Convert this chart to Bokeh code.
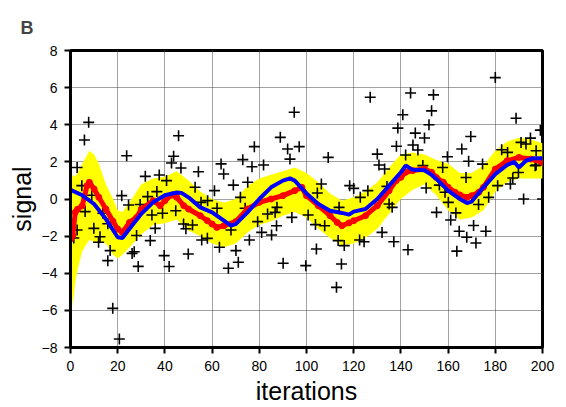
from bokeh.plotting import figure
from bokeh.models import FixedTicker, Range1d
from bokeh.embed import file_html
from bokeh.resources import INLINE

# scatter observations
obs_x = [7.7, 5.9, 2.8, 23.8, 45.8, 43.7, 42.8, 46.8, 31.7, 37.6, 40.7, 4.8, 9.0, 21.7, 24.6, 29.5,
         32.7, 36.6, 13.7, 6.2, 34.5, 39.0, 44.6, 9.9, 2.8, 15.8, 35.9, 47.9, 48.9, 12.5, 11.9, 28.0,
         33.8, 1.4, 16.8, 15.8, 26.1, 27.0, 28.7, 39.7, 41.8, 49.9, 17.9, 20.7,
         94.8, 88.9, 77.9, 92.0, 96.9, 93.0, 73.0, 76.9, 81.8, 63.8, 54.2, 64.9, 75.1, 69.0, 52.8, 61.0,
         72.0, 58.1, 55.3, 62.1, 74.0, 83.5, 86.7, 87.5, 93.8, 100.7, 51.7, 79.3, 87.3, 68.0, 81.0, 85.2,
         55.6, 58.0, 75.8, 63.1, 70.1, 71.1, 66.9, 90.1, 99.7,
         127.0, 144.1, 140.8, 138.7, 146.1, 150.0, 138.1, 145.1, 147.2, 130.0, 109.2, 142.0, 130.7,
         133.1, 149.3, 106.3, 104.6, 118.3, 120.0, 126.0, 122.8, 134.1, 150.7, 113.8, 135.0, 136.3,
         103.8, 107.7, 132.0, 113.4, 116.0, 122.5, 124.4, 137.0, 143.0, 104.2, 114.8, 112.7,
         180.0, 153.8, 153.0, 151.9, 188.8, 169.6, 165.8, 159.7, 168.7, 174.6, 182.7, 185.2, 190.9,
         194.9, 199.1, 193.0, 197.3, 197.3, 157.7, 167.6, 156.3, 158.7, 160.1, 155.1, 163.3, 161.1,
         164.7, 167.9, 171.8, 170.8, 176.0, 163.7, 172.9, 177.2, 181.0, 186.4, 187.4, 189.8, 192.0,
         196.9, 200.0]
obs_y = [4.13, 3.18, 1.70, 2.33, 3.41, 2.30, 1.94, 1.67, 1.22, 1.29, 0.99, 0.72, 0.20, 0.18, -0.32, -0.30,
         0.13, 0.40, -0.77, -0.68, -0.86, -0.77, -0.63, -1.58, -1.67, -1.33, -1.58, -1.35, -1.60, -2.03, -2.33, -1.97,
         -2.24, -2.10, -2.78, -3.32, -2.93, -2.84, -3.63, -3.05, -3.64, -2.96, -5.89, -7.54,
         4.67, 3.32, 2.82, 2.69, 2.82, 2.15, 2.12, 1.74, 1.83, 1.89, 1.47, 1.35, 0.90, 0.75, 0.63, 0.45,
         0.09, -0.09, -0.18, -0.50, -0.50, -0.81, -0.72, -0.45, -0.99, -0.86, -1.40, -1.22, -1.44, -1.67, -1.80, -1.94,
         -2.21, -2.12, -2.21, -2.60, -2.78, -3.41, -3.73, -3.46, -3.59,
         5.48, 5.71, 4.54, 3.82, 3.55, 3.29, 2.84, 2.91, 2.64, 2.42, 2.24, 2.37, 1.83,
         1.62, 1.80, 0.81, 0.32, 0.72, 0.57, 0.45, 0.09, 0.68, 0.59, -0.45, -0.27, -0.45,
         -1.38, -1.44, -1.80, -2.24, -2.51, -2.21, -2.30, -2.30, -2.73, -2.69, -3.50, -4.76,
         6.54, 5.61, 4.75, 4.00, 4.35, 3.37, 2.69, 2.28, 2.03, 1.88, 2.65, 2.51, 3.05,
         3.28, 3.71, 2.96, 2.60, 1.83, 1.70, 1.16, 0.75, 0.36, -0.18, -0.72, -0.75, -1.13,
         -1.74, -2.06, -2.37, -1.43, -1.74, -2.81, -0.30, 0.09, 0.72, 0.81, 1.13, 1.43, 0.00,
         1.79, 0.00]

# red estimate
red_x = [0, 1, 2, 3, 5, 7, 8, 10, 12, 15, 18, 20, 22, 25, 28, 30, 35, 38, 40, 43, 45, 48, 50,
         55, 58, 60, 62, 65, 70, 75, 80, 85, 90, 95, 98, 100, 105, 110, 113, 115, 118, 120,
         125, 130, 135, 138, 140, 142, 145, 150, 153, 155, 158, 160, 163, 165, 168, 170, 173,
         175, 180, 185, 190, 195, 200]
red_y = [-2.15, -1.97, -0.72, -0.55, -0.36, 0.72, 0.90, 0.54, 0.09, -0.54, -1.20, -1.62, -1.80, -1.26, -0.99,
         -0.54, -0.09, -0.36, -0.09, 0.22, 0.09, -0.36, -0.54, -0.90, -1.17, -1.35, -1.53, -1.44, -1.22,
         -0.54, -0.18, 0.00, 0.18, 0.45, 0.63, 0.18, -0.36, -0.90, -1.26, -1.44, -1.29, -1.17, -0.90,
         -0.36, 0.45, 0.99, 1.17, 1.44, 1.53, 1.62, 1.44, 1.16, 0.90, 0.63, 0.36, 0.22, 0.09, 0.18,
         0.36, 0.63, 1.61, 2.06, 2.24, 2.15, 1.97]

# yellow uncertainty band
band_x = [0, 1, 2, 3, 5, 8, 10, 12, 15, 18, 20, 22, 25, 28, 30, 35, 40, 45, 50, 55, 60, 65, 70, 75,
          80, 85, 90, 95, 100, 105, 110, 115, 120, 125, 130, 135, 140, 145, 150, 155, 160, 165,
          170, 175, 180, 185, 190, 195, 200]
band_hi = [1.0, 1.3, 1.2, 1.4, 1.9, 2.6, 2.4, 1.9, 0.8, 0.0, -0.6, -0.7, -0.2, 0.4, 0.8, 1.1, 1.2,
           1.5, 1.0, 0.4, 0.0, -0.2, 0.0, 0.7, 1.1, 1.3, 1.5, 1.7, 1.4, 0.9, 0.3, -0.1, 0.1, 0.4,
           0.9, 1.7, 2.4, 2.5, 2.4, 2.1, 1.9, 1.4, 1.4, 1.8, 2.6, 3.1, 3.3, 3.2, 3.0]
band_lo = [-3.5, -5.8, -4.5, -3.8, -2.8, -2.2, -2.3, -2.3, -2.4, -3.0, -3.2, -3.0, -2.6, -2.2, -1.9,
           -1.4, -1.3, -1.1, -1.7, -2.0, -2.4, -2.6, -2.4, -1.8, -1.4, -1.2, -0.9, -0.7, -1.0, -1.6,
           -2.1, -2.5, -2.4, -2.1, -1.6, -0.8, 0.0, 0.5, 0.8, 0.2, -0.6, -1.1, -1.0, -0.6, 0.4,
           0.9, 1.1, 1.1, 1.1]

# blue reference
blue_x = [0, 5, 10, 15, 20, 22, 25, 30, 35, 40, 45, 47, 50, 55, 60, 65, 68, 70, 75, 80, 85, 90,
          93, 95, 100, 105, 110, 115, 118, 120, 125, 130, 135, 140, 142, 145, 150, 153, 155, 160,
          165, 168, 170, 175, 180, 185, 188, 190, 193, 196, 200]
blue_y = [0.50, 0.20, -0.27, -1.08, -2.06, -2.10, -1.60, -0.80, -0.18, 0.20, 0.35, 0.33, 0.09, -0.45,
          -0.72, -1.17, -1.44, -1.35, -0.72, 0.00, 0.63, 0.99, 1.11, 0.99, 0.30, -0.27, -0.63, -0.75,
          -0.84, -0.68, -0.54, 0.00, 0.72, 1.44, 1.80, 1.57, 1.55, 1.30, 1.08, 0.45, 0.00, -0.22,
          -0.14, 0.63, 1.34, 1.83, 2.00, 1.70, 2.06, 2.19, 2.19]

x_ticks = [0, 20, 40, 60, 80, 100, 120, 140, 160, 180, 200]
y_ticks = [-8, -6, -4, -2, 0, 2, 4, 6, 8]

FONT = "Liberation Sans"

p = figure(width=566, height=407, output_backend="svg", toolbar_location=None,
           x_range=Range1d(0, 200), y_range=Range1d(-8, 8),
           min_border_left=70, min_border_right=24, min_border_top=50, min_border_bottom=59,
           x_axis_label="iterations", y_axis_label="signal")

p.title.text = "B"
p.title.text_font = FONT
p.title.text_font_size = "18px"
p.title.text_font_style = "bold"
p.title.align = "left"
p.title.offset = -50
p.title.standoff = 22
p.title.vertical_align = "top"

p.background_fill_color = "white"
p.border_fill_color = "white"
p.outline_line_color = "black"
p.outline_line_width = 3

for ax in (p.xaxis[0], p.yaxis[0]):
    ax.axis_line_width = 3
    ax.axis_line_color = "black"
    ax.major_tick_line_width = 2
    ax.major_tick_out = 6
    ax.major_tick_in = 0
    ax.minor_tick_line_color = None
    ax.major_label_text_font = FONT
    ax.major_label_text_font_size = "14px"
    ax.major_label_text_color = "black"
    ax.axis_label_text_font = FONT
    ax.axis_label_text_font_size = "25px"
    ax.axis_label_text_font_style = "normal"
    ax.axis_label_text_color = "black"

p.xaxis[0].major_label_standoff = 7
p.xaxis[0].axis_label_standoff = 3
p.yaxis[0].major_label_standoff = 7
p.yaxis[0].axis_label_standoff = 3

p.xaxis[0].ticker = FixedTicker(ticks=x_ticks)
p.yaxis[0].ticker = FixedTicker(ticks=y_ticks)

for g in (p.xgrid[0], p.ygrid[0]):
    g.grid_line_color = "#444444"
    g.grid_line_dash = "1 1"
    g.grid_line_width = 1

p.varea(x=band_x, y1=band_lo, y2=band_hi, fill_color="#FFFF00", fill_alpha=1.0)
p.scatter(obs_x, obs_y, marker="cross", size=11, line_color="black", line_width=1.6)
p.line(red_x, red_y, line_color="#FF0000", line_width=5)
p.scatter(red_x, red_y, marker="circle", size=6, fill_color="#FF0000", line_color="#FF0000")
p.line(blue_x, blue_y, line_color="#0000FF", line_width=4)

open("out.html", "w").write(file_html(p, INLINE))
